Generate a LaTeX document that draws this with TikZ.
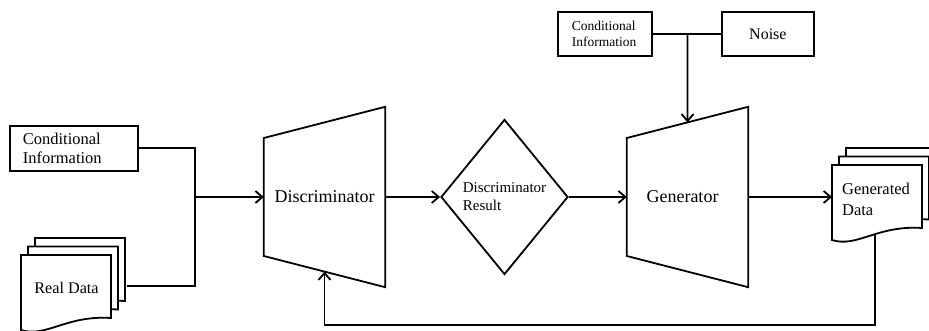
\documentclass[tikz,border=0pt]{standalone}
\usepackage{fontspec}
\setmainfont{Liberation Serif}
\usetikzlibrary{arrows.meta,shapes.geometric,calc}

\tikzset{
  flow/.style={line width=1.8pt, line join=miter},
  arr/.style={flow, -{Straight Barb[length=7pt,width=12pt,line width=1.8pt]}},
  infobox/.style={draw, line width=1.8pt, inner ysep=0pt, align=left},
  pagefill/.style={draw, line width=1.8pt, fill=white, line join=miter},
  netblock/.style={minimum width=121pt, minimum height=180pt, inner sep=0pt,
                   font=\fontsize{18}{21}\selectfont},
}

% one sheet of a document stack, given its top-left corner
\newcommand\drawpage[2]{%
  \draw[pagefill] (#1,#2) -- ({#1+90},#2) -- ({#1+90},{#2+63})
    .. controls ({#1+45},{#2+60}) and ({#1+25},{#2+83}) .. (#1,{#2+75}) -- cycle;
}

\begin{document}
\begin{tikzpicture}[x=1pt,y=-1pt]
\useasboundingbox (0,0) rectangle (929,331);

% inputs
\node[infobox, text width=102pt, inner xsep=13pt, minimum height=45pt,
      font=\fontsize{16.5}{19}\selectfont, anchor=north west]
      (condL) at (9,125) {Conditional\\Information};
\node[infobox, text width=66pt, inner xsep=14pt, minimum height=44pt,
      font=\fontsize{13.5}{16}\selectfont, anchor=north west]
      (condT) at (557,11) {Conditional\\Information};
\node[infobox, minimum width=92pt, minimum height=44pt,
      font=\fontsize{16}{19}\selectfont, anchor=north west]
      (noise) at (721,11) {Noise};

% discriminator and generator blocks
\node[netblock] (disc) at (324.5,197) {Discriminator};
\coordinate (discTL) at ($(disc.west)+(0,-59)$);
\coordinate (discBL) at ($(disc.west)+(0,59)$);
\draw[flow] (disc.north east) -- (disc.south east) -- (discBL) -- (discTL) -- cycle;

\node[netblock] (gen) at (687.5,197) {Generator\hspace*{10pt}};
\coordinate (genTL) at ($(gen.west)+(0,-59)$);
\coordinate (genBL) at ($(gen.west)+(0,59)$);
\draw[flow] (gen.north east) -- (gen.south east) -- (genBL) -- (genTL) -- cycle;

% decision
\node[diamond, draw, line width=1.8pt, aspect=0.82, minimum width=127pt,
      minimum height=155pt, inner sep=0pt, align=left,
      font=\fontsize{15}{18}\selectfont]
      (result) at (504.5,197) {Discriminator\\Result};

% connection points
\coordinate (joinL) at (195,197);
\coordinate (realOut) at (127,286);
\coordinate (joinT) at (condT.east -| gen.center);
\coordinate (genTop) at ($(genTL)!0.5!(gen.north east)$);
\coordinate (discBot) at ($(discBL)!0.5!(disc.south east)$);
\coordinate (genIn) at (832,197);
\coordinate (genOut) at (875,225);
\coordinate (fbCorner) at (875,325);

% connectors
\draw[flow] (condL.east) -| (joinL);
\draw[flow] (realOut) -| (joinL);
\draw[arr] (joinL) -- (disc.west);
\draw[arr] (disc.east) -- (result.west);
\draw[arr] (result.east) -- (gen.west);
\draw[flow] (condT.east) -- (noise.west);
\draw[arr] (joinT) -- (genTop);
\draw[arr] (gen.east) -- (genIn);
\draw[arr] (genOut) -- (fbCorner) -| (discBot);

% document stacks
\drawpage{35}{238}
\drawpage{28}{246.5}
\drawpage{21}{255}
\node[font=\fontsize{16.2}{19}\selectfont] (real) at (66.5,288) {Real Data};

\drawpage{846}{148}
\drawpage{839}{156.5}
\drawpage{832}{165}
\node[align=left, font=\fontsize{16.5}{21}\selectfont] (gendata) at (876,199) {Generated\\Data};
\end{tikzpicture}
\end{document}
